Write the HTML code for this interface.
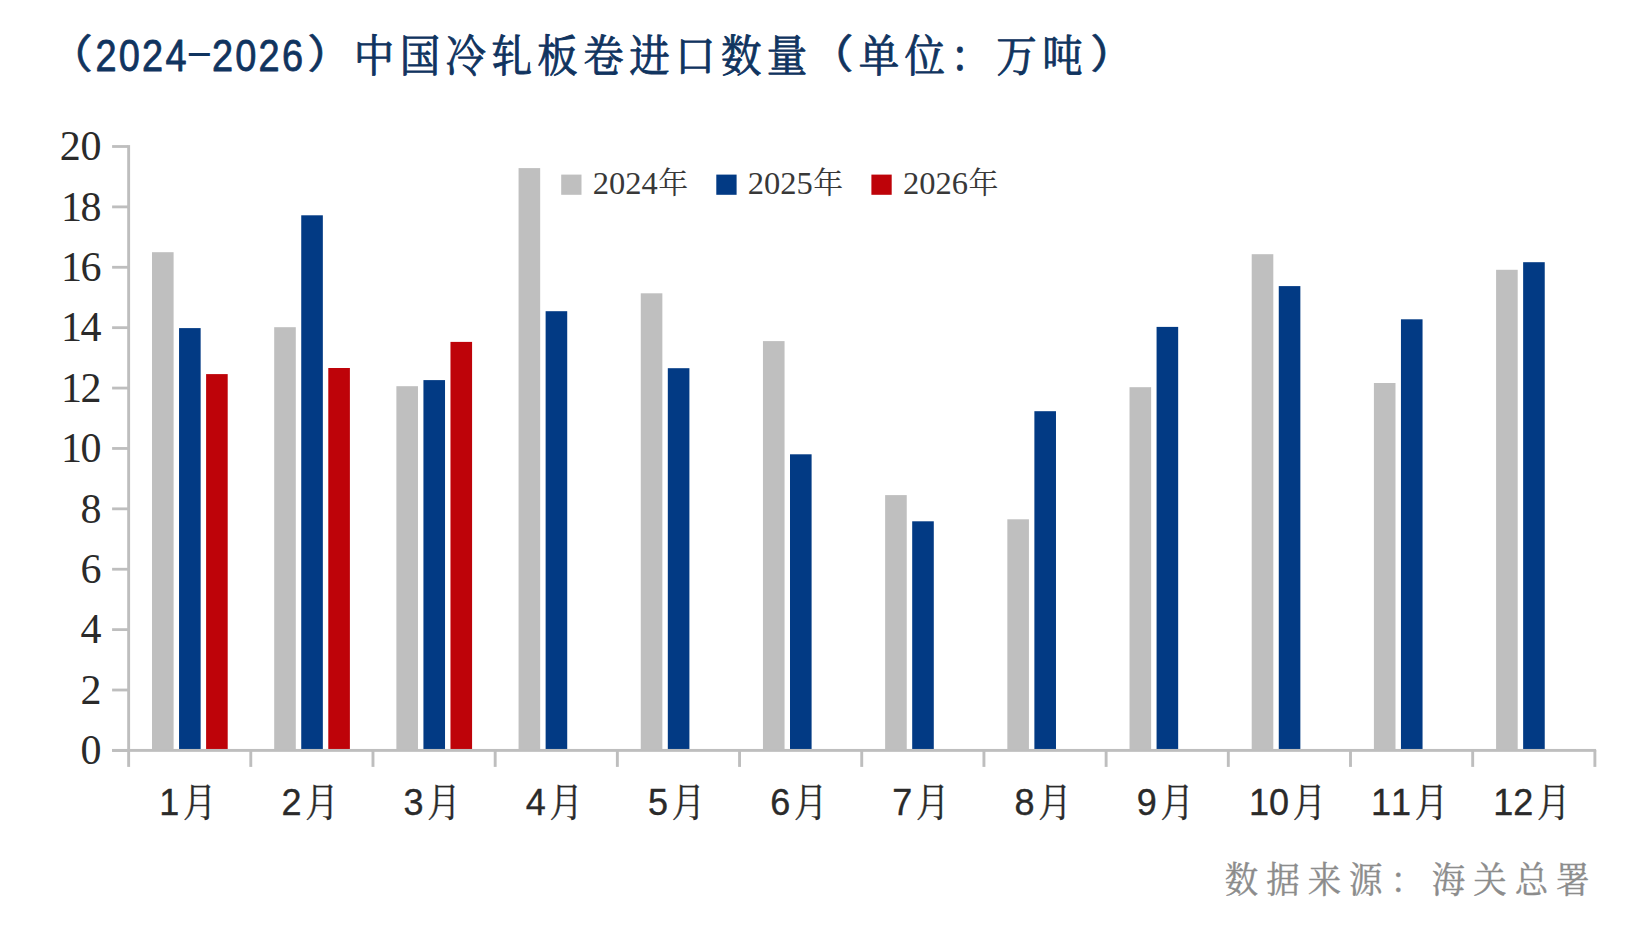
<!DOCTYPE html>
<html lang="zh-CN">
<head>
<meta charset="utf-8">
<title>（2024-2026）中国冷轧板卷进口数量（单位：万吨）</title>
<style>
html,body{margin:0;padding:0;background:#fff;}
body{width:1646px;height:941px;overflow:hidden;}
svg{display:block;}
.ylab{font-family:"Liberation Serif", "Noto Serif CJK SC", serif;font-size:42px;fill:#2a2a2a;}
.leg{font-family:"Liberation Serif", "Noto Serif CJK SC", serif;font-size:32.5px;fill:#383838;}
.mon{font-family:"Liberation Sans", "Noto Serif CJK SC", serif;font-size:36px;fill:#2a2a2a;}
.ttl{font-family:"Liberation Sans", "Noto Serif CJK SC", serif;fill:#10345f;}
.src{font-family:"Liberation Sans", "Noto Serif CJK SC", serif;fill:#8c8c8c;}
</style>
</head>
<body>
<svg width="1646" height="941" viewBox="0 0 1646 941">
<rect x="0" y="0" width="1646" height="941" fill="#ffffff"/>
<g id="bars">
<g fill="#bfbfbf">
<rect x="152.00" y="252.20" width="21.60" height="497.80"/>
<rect x="274.19" y="327.20" width="21.60" height="422.80"/>
<rect x="396.38" y="386.20" width="21.60" height="363.80"/>
<rect x="518.57" y="168.10" width="21.60" height="581.90"/>
<rect x="640.76" y="293.30" width="21.60" height="456.70"/>
<rect x="762.95" y="341.10" width="21.60" height="408.90"/>
<rect x="885.14" y="495.10" width="21.60" height="254.90"/>
<rect x="1007.33" y="519.30" width="21.60" height="230.70"/>
<rect x="1129.52" y="387.20" width="21.60" height="362.80"/>
<rect x="1251.71" y="254.20" width="21.60" height="495.80"/>
<rect x="1373.90" y="383.00" width="21.60" height="367.00"/>
<rect x="1496.09" y="269.80" width="21.60" height="480.20"/>
</g>
<g fill="#023a84">
<rect x="179.05" y="328.10" width="21.60" height="421.90"/>
<rect x="301.24" y="215.30" width="21.60" height="534.70"/>
<rect x="423.43" y="380.10" width="21.60" height="369.90"/>
<rect x="545.62" y="311.20" width="21.60" height="438.80"/>
<rect x="667.81" y="368.20" width="21.60" height="381.80"/>
<rect x="790.00" y="454.30" width="21.60" height="295.70"/>
<rect x="912.19" y="521.30" width="21.60" height="228.70"/>
<rect x="1034.38" y="411.20" width="21.60" height="338.80"/>
<rect x="1156.57" y="326.90" width="21.60" height="423.10"/>
<rect x="1278.76" y="286.10" width="21.60" height="463.90"/>
<rect x="1400.95" y="319.30" width="21.60" height="430.70"/>
<rect x="1523.14" y="262.20" width="21.60" height="487.80"/>
</g>
<g fill="#be0309">
<rect x="206.10" y="374.10" width="21.60" height="375.90"/>
<rect x="328.29" y="368.00" width="21.60" height="382.00"/>
<rect x="450.48" y="341.90" width="21.60" height="408.10"/>
</g>
</g>
<g id="axes" fill="#bebebe">
<rect x="127.20" y="145.10" width="2.9" height="621.80"/>
<rect x="112.1" y="749.00" width="16" height="2.8"/>
<rect x="112.1" y="688.61" width="16" height="2.8"/>
<rect x="112.1" y="628.22" width="16" height="2.8"/>
<rect x="112.1" y="567.83" width="16" height="2.8"/>
<rect x="112.1" y="507.44" width="16" height="2.8"/>
<rect x="112.1" y="447.05" width="16" height="2.8"/>
<rect x="112.1" y="386.66" width="16" height="2.8"/>
<rect x="112.1" y="326.27" width="16" height="2.8"/>
<rect x="112.1" y="265.88" width="16" height="2.8"/>
<rect x="112.1" y="205.49" width="16" height="2.8"/>
<rect x="112.1" y="145.10" width="16" height="2.8"/>
<rect x="112.1" y="748.95" width="1484.00" height="2.9"/>
<rect x="249.34" y="750" width="2.9" height="16.9"/>
<rect x="371.53" y="750" width="2.9" height="16.9"/>
<rect x="493.72" y="750" width="2.9" height="16.9"/>
<rect x="615.91" y="750" width="2.9" height="16.9"/>
<rect x="738.10" y="750" width="2.9" height="16.9"/>
<rect x="860.29" y="750" width="2.9" height="16.9"/>
<rect x="982.48" y="750" width="2.9" height="16.9"/>
<rect x="1104.67" y="750" width="2.9" height="16.9"/>
<rect x="1226.86" y="750" width="2.9" height="16.9"/>
<rect x="1349.05" y="750" width="2.9" height="16.9"/>
<rect x="1471.24" y="750" width="2.9" height="16.9"/>
<rect x="1593.43" y="750" width="2.9" height="16.9"/>
</g>
<g class="ylab">
<text x="80.4" y="764.1">0</text>
<text x="80.4" y="703.7">2</text>
<text x="80.4" y="643.3">4</text>
<text x="80.4" y="582.9">6</text>
<text x="80.4" y="522.5">8</text>
<text x="61.1 80.4" y="462.1">10</text>
<text x="61.1 80.4" y="401.8">12</text>
<text x="61.1 80.4" y="341.4">14</text>
<text x="61.1 80.4" y="281.0">16</text>
<text x="61.1 80.4" y="220.6">18</text>
<text x="59.8 80.4" y="160.2">20</text>
</g>
<g id="legend">
<rect x="561.2" y="174.6" width="20.3" height="20.2" fill="#bfbfbf"/>
<text class="leg" x="592.7" y="193.6">2024<tspan font-size="30" dx="0.5" dy="-0.5">年</tspan></text>
<rect x="716.3" y="174.6" width="20.3" height="20.2" fill="#023a84"/>
<text class="leg" x="747.8" y="193.6">2025<tspan font-size="30" dx="0.5" dy="-0.5">年</tspan></text>
<rect x="871.4" y="174.6" width="20.3" height="20.2" fill="#be0309"/>
<text class="leg" x="902.9" y="193.6">2026<tspan font-size="30" dx="0.5" dy="-0.5">年</tspan></text>
</g>
<g class="mon">
<g><text stroke="#2a2a2a" stroke-width="0.35" y="814.8" x="159.2">1</text><text stroke="#2a2a2a" stroke-width="0.4" font-size="37" transform="translate(199.6,816) scale(0.90,1.03)" x="-18.5" y="0">月</text></g>
<g><text stroke="#2a2a2a" stroke-width="0.35" y="814.8" x="281.4">2</text><text stroke="#2a2a2a" stroke-width="0.4" font-size="37" transform="translate(321.8,816) scale(0.90,1.03)" x="-18.5" y="0">月</text></g>
<g><text stroke="#2a2a2a" stroke-width="0.35" y="814.8" x="403.6">3</text><text stroke="#2a2a2a" stroke-width="0.4" font-size="37" transform="translate(444.0,816) scale(0.90,1.03)" x="-18.5" y="0">月</text></g>
<g><text stroke="#2a2a2a" stroke-width="0.35" y="814.8" x="525.8">4</text><text stroke="#2a2a2a" stroke-width="0.4" font-size="37" transform="translate(566.2,816) scale(0.90,1.03)" x="-18.5" y="0">月</text></g>
<g><text stroke="#2a2a2a" stroke-width="0.35" y="814.8" x="648.0">5</text><text stroke="#2a2a2a" stroke-width="0.4" font-size="37" transform="translate(688.4,816) scale(0.90,1.03)" x="-18.5" y="0">月</text></g>
<g><text stroke="#2a2a2a" stroke-width="0.35" y="814.8" x="770.2">6</text><text stroke="#2a2a2a" stroke-width="0.4" font-size="37" transform="translate(810.6,816) scale(0.90,1.03)" x="-18.5" y="0">月</text></g>
<g><text stroke="#2a2a2a" stroke-width="0.35" y="814.8" x="892.3">7</text><text stroke="#2a2a2a" stroke-width="0.4" font-size="37" transform="translate(932.7,816) scale(0.90,1.03)" x="-18.5" y="0">月</text></g>
<g><text stroke="#2a2a2a" stroke-width="0.35" y="814.8" x="1014.5">8</text><text stroke="#2a2a2a" stroke-width="0.4" font-size="37" transform="translate(1054.9,816) scale(0.90,1.03)" x="-18.5" y="0">月</text></g>
<g><text stroke="#2a2a2a" stroke-width="0.35" y="814.8" x="1136.7">9</text><text stroke="#2a2a2a" stroke-width="0.4" font-size="37" transform="translate(1177.1,816) scale(0.90,1.03)" x="-18.5" y="0">月</text></g>
<g><text stroke="#2a2a2a" stroke-width="0.35" y="814.8" x="1248.9 1268.9">10</text><text stroke="#2a2a2a" stroke-width="0.4" font-size="37" transform="translate(1309.3,816) scale(0.90,1.03)" x="-18.5" y="0">月</text></g>
<g><text stroke="#2a2a2a" stroke-width="0.35" y="814.8" x="1371.1 1391.1">11</text><text stroke="#2a2a2a" stroke-width="0.4" font-size="37" transform="translate(1431.5,816) scale(0.90,1.03)" x="-18.5" y="0">月</text></g>
<g><text stroke="#2a2a2a" stroke-width="0.35" y="814.8" x="1493.3 1513.3">12</text><text stroke="#2a2a2a" stroke-width="0.4" font-size="37" transform="translate(1553.7,816) scale(0.90,1.03)" x="-18.5" y="0">月</text></g>
</g>
<g class="ttl" stroke="#10345f" stroke-width="0.9" stroke-linejoin="round"><text style="font-family:'Liberation Sans', 'Noto Sans CJK SC', sans-serif" stroke-width="0.6" transform="translate(44.84,68.3) scale(1.20,1)" font-size="40" x="0" y="0">（</text><text stroke-width="0.8" transform="scale(0.87,1)" font-size="43.6"><tspan y="70.6" x="109.77 136.55 163.33 190.11">2024</tspan><tspan stroke="none" y="65.6" x="216.90">–</tspan><tspan y="70.6" x="243.68 270.46 297.24 324.02">2026</tspan></text><text style="font-family:'Liberation Sans', 'Noto Sans CJK SC', sans-serif" stroke-width="0.6" transform="translate(307.32,68.3) scale(1.20,1)" font-size="40" x="0" y="0">）</text><text transform="scale(0.92,1)" y="72" font-size="44" x="384.52 434.41 484.30 534.20 584.09 633.98 683.87 733.76 783.65 833.54">中国冷轧板卷进口数量</text><text style="font-family:'Liberation Sans', 'Noto Sans CJK SC', sans-serif" stroke-width="0.6" transform="translate(805.44,68.3) scale(1.20,1)" font-size="40" x="0" y="0">（</text><text transform="scale(0.92,1)" y="72" font-size="44" x="933.33 983.22 1033.11 1083.00 1132.89">单位：万吨</text><text style="font-family:'Liberation Sans', 'Noto Sans CJK SC', sans-serif" stroke-width="0.6" transform="translate(1090.32,68.3) scale(1.20,1)" font-size="40" x="0" y="0">）</text></g>
<text class="src" stroke="#8c8c8c" stroke-width="0.4" font-size="36" transform="scale(0.93,1)" y="893.5" x="1317.05 1361.57 1406.09 1450.60 1495.12 1539.63 1584.15 1628.67 1673.18">数据来源：海关总署</text>
</svg>
</body>
</html>
